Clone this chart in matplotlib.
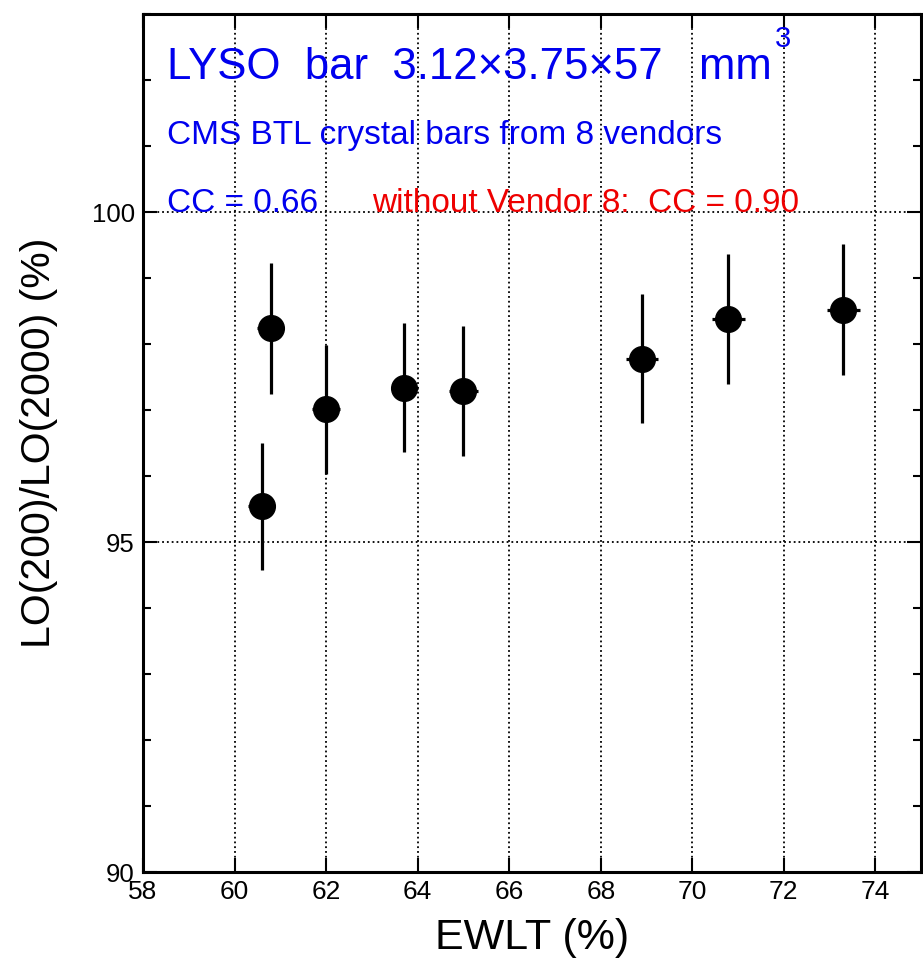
import matplotlib
matplotlib.use('Agg')
import matplotlib.pyplot as plt
from matplotlib.ticker import MultipleLocator, FixedLocator

# EWLT (%) vs LO(200)/LO(2000) (%) for 8 vendors
ewlt = [60.59, 60.79, 62.0, 63.71, 65.0, 68.91, 70.79, 73.30]
ewlt_err = [0.30, 0.30, 0.30, 0.30, 0.32, 0.35, 0.36, 0.36]
lo_ratio = [95.54, 98.24, 97.01, 97.34, 97.29, 97.78, 98.38, 98.52]
lo_err = [0.96, 0.99, 0.98, 0.98, 0.98, 0.98, 0.99, 0.99]

title = 'LYSO  bar  3.12\u00d73.75\u00d757   mm'
subtitle = 'CMS BTL crystal bars from 8 vendors'
cc_all = 'CC = 0.66'
cc_red = 'without Vendor 8:  CC = 0.90'

plt.rcParams['font.family'] = ['Liberation Sans', 'DejaVu Sans']

fig = plt.figure(figsize=(9.23, 9.66), dpi=100)
ax = fig.add_axes([0.155, 0.0973, 0.843, 0.888])

ax.errorbar(ewlt, lo_ratio, xerr=ewlt_err, yerr=lo_err, fmt='o', color='black',
            markersize=18.5, elinewidth=2.3, capsize=0, zorder=3)

ax.set_xlim(58, 75)
ax.set_ylim(90, 103)
ax.xaxis.set_major_locator(MultipleLocator(2))
ax.yaxis.set_major_locator(FixedLocator([90, 95, 100]))
ax.yaxis.set_minor_locator(MultipleLocator(1))

ax.grid(True, which='major', linestyle=':', color='black', linewidth=1.3)
ax.tick_params(which='both', direction='in', top=True, right=True, width=1.5)
ax.tick_params(which='major', length=10)
ax.tick_params(which='minor', length=6)
ax.tick_params(axis='y', labelsize=18.5, pad=6)
ax.tick_params(axis='x', labelsize=19, pad=6)
for s in ax.spines.values():
    s.set_linewidth(2.2)

ax.set_xlabel('EWLT (%)', fontsize=31, labelpad=10)
ax.set_ylabel('LO(200)/LO(2000) (%)', fontsize=29.5, labelpad=24)

t1 = ax.text(58.53, 102.02, title, fontsize=31.5, color='#0000ee', va='baseline')
# superscript 3 of mm^3
ax.annotate('3', xy=(1.005, 1.2), xycoords=t1, fontsize=21, color='#0000ee',
            ha='left', va='center')
ax.text(58.53, 101.03, subtitle, fontsize=24, color='#0000ee', va='baseline')
ax.text(58.53, 100.0, cc_all, fontsize=24, color='#0000ee', va='baseline')
ax.text(63.01, 100.0, cc_red, fontsize=24, color='#ee0000', va='baseline')

fig.savefig('out.png', dpi=100)
